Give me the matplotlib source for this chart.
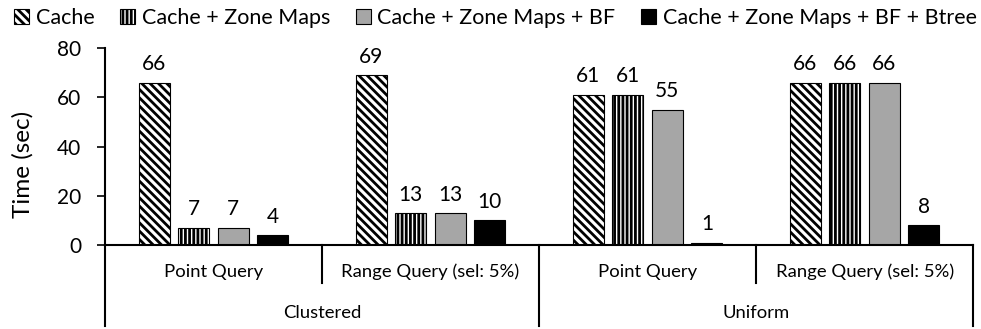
import numpy as np
import matplotlib
matplotlib.use("Agg")
import matplotlib.pyplot as plt
import matplotlib.transforms as mtrans
from matplotlib.lines import Line2D

plt.rcParams['font.family'] = ['Lato', 'DejaVu Sans']
plt.rcParams['hatch.linewidth'] = 2.0

# data
series = ['Cache', 'Cache + Zone Maps', 'Cache + Zone Maps + BF',
          'Cache + Zone Maps + BF + Btree']
queries = ['Point Query', 'Range Query (sel: 5%)',
           'Point Query', 'Range Query (sel: 5%)']
datasets = ['Clustered', 'Uniform']
cache = [66, 69, 61, 66]
cache_zm = [7, 13, 61, 66]
cache_zm_bf = [7, 13, 55, 66]
cache_zm_bf_bt = [4, 10, 1, 8]

values = [cache, cache_zm, cache_zm_bf, cache_zm_bf_bt]
styles = [dict(color='white', hatch='\\\\\\\\'),
          dict(color='white', hatch='||||'),
          dict(color='#a6a6a6', hatch=None),
          dict(color='black', hatch=None)]

fig = plt.figure(figsize=(9.81, 3.29), dpi=100)
ax = fig.add_axes([0.107, 0.2553, 0.885, 0.5987])

x = np.arange(len(queries))
width = 0.143
step = 0.182
for i, (vals, st) in enumerate(zip(values, styles)):
    pos = x + (i - 1.5) * step
    bars = ax.bar(pos, vals, width, color=st['color'], hatch=st['hatch'],
                  edgecolor='black', linewidth=0.8, label=series[i])
    for b, v in zip(bars, vals):
        ax.annotate(str(v), (b.get_x() + b.get_width() / 2, v),
                    xytext=(0, 6), textcoords='offset points',
                    ha='center', va='bottom', fontsize=15)

ax.set_xlim(-0.5, 3.5)
ax.set_ylim(0, 80)
ax.set_yticks([0, 20, 40, 60, 80])
ax.tick_params(axis='y', labelsize=15, length=6, width=1.2, direction='out',
               pad=11)
ax.set_xticks([])
ax.set_ylabel('Time (sec)', fontsize=17.5)
ax.yaxis.set_label_coords(-0.082, 0.41)
for s in ['top', 'right']:
    ax.spines[s].set_visible(False)
ax.spines['left'].set_linewidth(1.5)
ax.spines['bottom'].set_linewidth(1.5)

# two-level category axis
tr = mtrans.blended_transform_factory(ax.transData, ax.transAxes)
for xb in [-0.5, 0.5, 1.5, 2.5, 3.5]:
    low = -0.41 if xb in (-0.5, 1.5, 3.5) else -0.195
    ax.add_line(Line2D([xb, xb], [0, low], transform=tr, color='black',
                       lw=1.5, clip_on=False))
for xi, q in zip(x, queries):
    ax.text(xi, -0.137, q, transform=tr, ha='center', va='center', fontsize=13.3)
for k, d in enumerate(datasets):
    ax.text(2 * k + 0.5, -0.345, d, transform=tr, ha='center', va='center',
            fontsize=13.3)

fig.legend(loc='center', bbox_to_anchor=(0.505, 0.945), ncol=4, frameon=False,
           fontsize=15.5, handlelength=0.7, handleheight=0.7,
           handletextpad=0.3, columnspacing=1.2, borderaxespad=0)

fig.savefig('out.png', dpi=100)
